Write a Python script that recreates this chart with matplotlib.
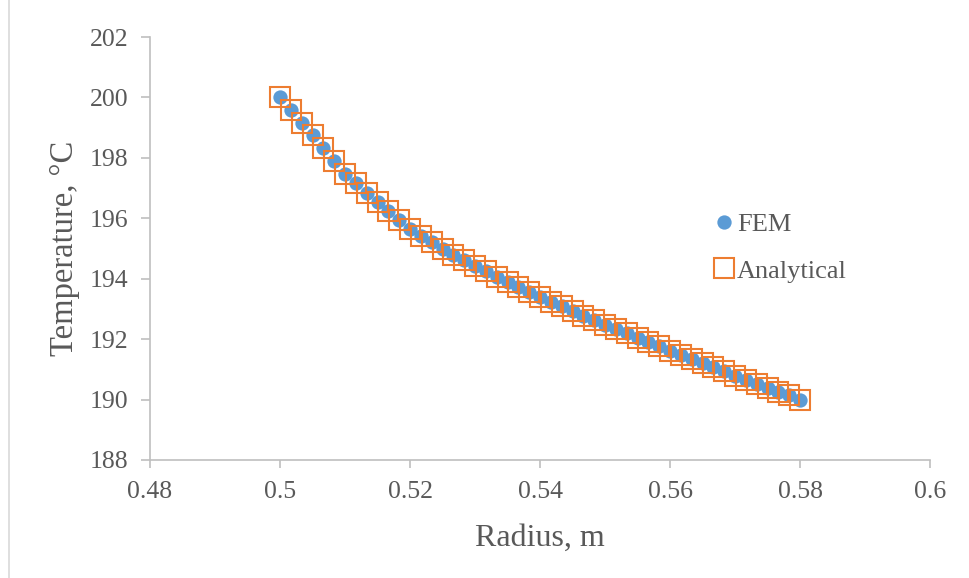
import matplotlib
matplotlib.use("Agg")
import matplotlib.pyplot as plt
from matplotlib.lines import Line2D

# Radial positions (m) and temperatures (°C)
radius = [
    0.50000, 0.50167, 0.50333, 0.50500, 0.50667, 0.50833, 0.51000,
    0.51167, 0.51333, 0.51500, 0.51667, 0.51833, 0.52000,
    0.52167, 0.52333, 0.52500, 0.52667, 0.52833, 0.53000,
    0.53167, 0.53333, 0.53500, 0.53667, 0.53833, 0.54000,
    0.54167, 0.54333, 0.54500, 0.54667, 0.54833, 0.55000,
    0.55167, 0.55333, 0.55500, 0.55667, 0.55833, 0.56000,
    0.56167, 0.56333, 0.56500, 0.56667, 0.56833, 0.57000,
    0.57167, 0.57333, 0.57500, 0.57667, 0.57833, 0.58000,
]

temp_fem = [
    200.00, 199.58, 199.16, 198.74, 198.32, 197.90, 197.48,
    197.16, 196.85, 196.54, 196.25, 195.95, 195.66,
    195.43, 195.21, 195.00, 194.80, 194.61, 194.42,
    194.24, 194.06, 193.89, 193.72, 193.56, 193.40,
    193.24, 193.085, 192.93, 192.78, 192.63, 192.48,
    192.335, 192.19, 192.045, 191.90, 191.76, 191.62,
    191.48, 191.34, 191.20, 191.065, 190.93, 190.795,
    190.66, 190.525, 190.395, 190.265, 190.135, 190.00,
]

temp_analytical = [
    200.00, 199.58, 199.16, 198.74, 198.32, 197.90, 197.48,
    197.16, 196.85, 196.54, 196.25, 195.95, 195.66,
    195.43, 195.21, 195.00, 194.80, 194.61, 194.42,
    194.24, 194.06, 193.89, 193.72, 193.56, 193.40,
    193.24, 193.085, 192.93, 192.78, 192.63, 192.48,
    192.335, 192.19, 192.045, 191.90, 191.76, 191.62,
    191.48, 191.34, 191.20, 191.065, 190.93, 190.795,
    190.66, 190.525, 190.395, 190.265, 190.135, 190.00,
]

x_ticks = [0.48, 0.50, 0.52, 0.54, 0.56, 0.58, 0.60]
x_tick_labels = ["0.48", "0.5", "0.52", "0.54", "0.56", "0.58", "0.6"]
y_ticks = [188, 190, 192, 194, 196, 198, 200, 202]

BLUE = "#5b9bd5"
ORANGE = "#ed7d31"
TEXT = "#595959"
AXIS = "#bfbfbf"

plt.rcParams["font.family"] = ["Liberation Serif", "DejaVu Serif"]

fig = plt.figure(figsize=(9.69, 5.78), dpi=100)
ax = fig.add_axes([150 / 969, 1 - 460 / 578, (930 - 150) / 969, (460 - 37) / 578])

ax.plot(radius, temp_fem, linestyle="none", marker="o", markersize=10.3,
        markerfacecolor=BLUE, markeredgecolor=BLUE, markeredgewidth=0,
        label="FEM", zorder=3)
ax.plot(radius, temp_analytical, linestyle="none", marker="s", markersize=13.8,
        markerfacecolor="none", markeredgecolor=ORANGE, markeredgewidth=1.5,
        label="Analytical", zorder=4)

ax.set_xlim(0.48, 0.60)
ax.set_ylim(188, 202)
ax.set_xticks(x_ticks)
ax.set_xticklabels(x_tick_labels)
ax.set_yticks(y_ticks)

for side in ("top", "right"):
    ax.spines[side].set_visible(False)
for side in ("left", "bottom"):
    ax.spines[side].set_color(AXIS)
    ax.spines[side].set_linewidth(1.2)

ax.tick_params(axis="x", direction="out", length=6, width=1.2, color=AXIS,
               labelsize=18.5, labelcolor=TEXT, pad=9)
ax.tick_params(axis="y", direction="out", length=6.5, width=1.2, color=AXIS,
               labelsize=18.5, labelcolor=TEXT, pad=9)

ax.set_xlabel("Radius, m", fontsize=23, color=TEXT, labelpad=15)
ax.set_ylabel("Temperature, °C", fontsize=23.5, color=TEXT, labelpad=7)

handles = [
    Line2D([], [], linestyle="none", marker="o", markersize=10.3,
           markerfacecolor=BLUE, markeredgewidth=0),
    Line2D([], [], linestyle="none", marker="s", markersize=13.8,
           markerfacecolor="none", markeredgecolor=ORANGE, markeredgewidth=1.5),
]
fig.legend(handles, ["FEM", "Analytical"], loc="upper left",
           bbox_to_anchor=(712 / 969, 1 - 213 / 578), frameon=False,
           fontsize=19, labelcolor=TEXT, handlelength=0.9, handletextpad=0.05,
           labelspacing=0.86, borderaxespad=0, borderpad=0)

# Outer chart-area border line on the left
fig.add_artist(Line2D([9 / 969, 9 / 969], [0, 1], transform=fig.transFigure,
                      color="#d9d9d9", linewidth=1.2))

fig.savefig("out.png", dpi=100)
